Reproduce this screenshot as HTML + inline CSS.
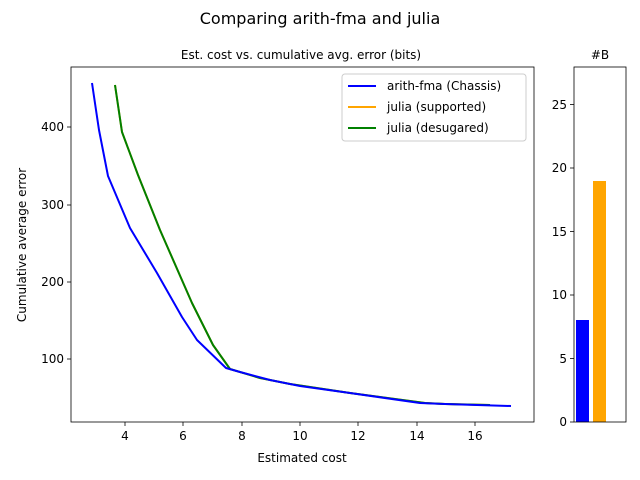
<!DOCTYPE html>
<html><head><style>body{margin:0;background:#fff}svg{display:block}text{font-family:"DejaVu Sans","Liberation Sans",sans-serif}</style></head><body>
<svg width="640" height="480" viewBox="0 0 640 480" xmlns="http://www.w3.org/2000/svg">
<rect width="640" height="480" fill="#fff"/>
<text x="320" y="24" font-size="16" text-anchor="middle">Comparing arith-fma and julia</text>
<text x="301" y="59" font-size="12" text-anchor="middle">Est. cost vs. cumulative avg. error (bits)</text>
<text x="600" y="59" font-size="12" text-anchor="middle">#B</text>
<g stroke="#000" stroke-width="0.8">
<line x1="125" y1="422" x2="125" y2="426"/><line x1="183" y1="422" x2="183" y2="426"/><line x1="242" y1="422" x2="242" y2="426"/><line x1="300" y1="422" x2="300" y2="426"/><line x1="358" y1="422" x2="358" y2="426"/><line x1="417" y1="422" x2="417" y2="426"/><line x1="475" y1="422" x2="475" y2="426"/>
<line x1="67" y1="359" x2="71" y2="359"/><line x1="67" y1="282" x2="71" y2="282"/><line x1="67" y1="205" x2="71" y2="205"/><line x1="67" y1="127" x2="71" y2="127"/>
<line x1="570" y1="422" x2="574" y2="422"/><line x1="570" y1="358.5" x2="574" y2="358.5"/><line x1="570" y1="295" x2="574" y2="295"/><line x1="570" y1="231.5" x2="574" y2="231.5"/><line x1="570" y1="168" x2="574" y2="168"/><line x1="570" y1="104.5" x2="574" y2="104.5"/>
</g>
<g font-size="12" text-anchor="middle">
<text x="125" y="440">4</text><text x="183" y="440">6</text><text x="242" y="440">8</text><text x="300" y="440">10</text><text x="358" y="440">12</text><text x="417" y="440">14</text><text x="475" y="440">16</text>
<text x="302" y="462">Estimated cost</text>
</g>
<g font-size="12" text-anchor="end">
<text x="64" y="363">100</text><text x="64" y="286">200</text><text x="64" y="209">300</text><text x="64" y="131">400</text>
<text x="567" y="426">0</text><text x="567" y="363">5</text><text x="567" y="299">10</text><text x="567" y="236">15</text><text x="567" y="172">20</text><text x="567" y="109">25</text>
</g>
<text transform="translate(26,245) rotate(-90)" font-size="12" text-anchor="middle">Cumulative average error</text>
<g fill="none" stroke-width="2" stroke-linejoin="round">
<polyline stroke="orange" points="115,85 122,132 138,175 160,230 192,303 213,345 230,369 260,378 290,384 350,393 425,403 445,404 490,405"/>
<polyline stroke="green" points="115,85 122,132 138,175 160,230 192,303 213,345 230,369 260,378 290,384 350,393 425,403 445,404 490,405"/>
<polyline stroke="blue" points="92,83 96,110 99,130 108,176 130,228 157,273 182,317 197,340 226,368 240,372 270,380 300,386 350,393 420,403 445,404 511,406"/>
</g>
<rect x="71" y="67" width="463" height="355" fill="none" stroke="#000" stroke-width="0.8"/>
<rect x="342" y="74" width="184" height="67" fill="#fff" stroke="#ccc" rx="3"/>
<g stroke-width="2"><line x1="348" y1="86" x2="376" y2="86" stroke="blue"/><line x1="348" y1="107" x2="376" y2="107" stroke="orange"/><line x1="348" y1="128" x2="376" y2="128" stroke="green"/></g>
<g font-size="12"><text x="387" y="90">arith-fma (Chassis)</text><text x="387" y="111">julia (supported)</text><text x="387" y="132">julia (desugared)</text></g>
<rect x="576" y="320" width="13" height="102" fill="blue"/>
<rect x="593" y="181" width="13" height="241" fill="orange"/>
<rect x="574" y="67" width="52" height="355" fill="none" stroke="#000" stroke-width="0.8"/>
</svg>
</body></html>
